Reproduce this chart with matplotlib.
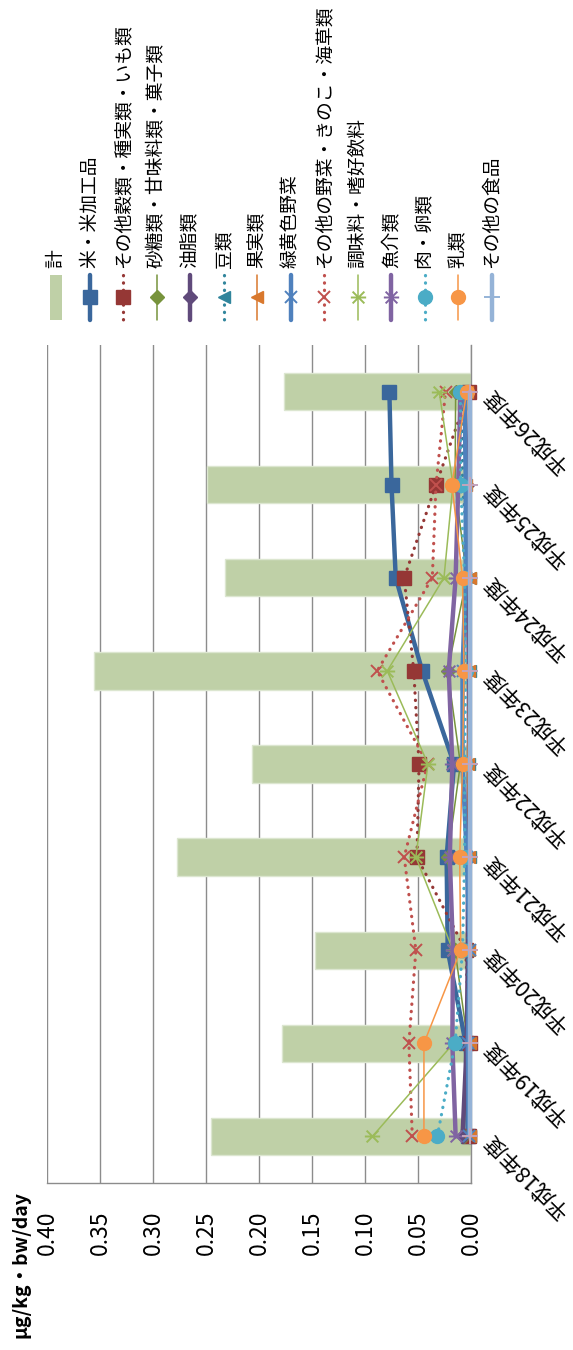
import numpy as np
import matplotlib
matplotlib.use("Agg")
import matplotlib.pyplot as plt
from matplotlib.lines import Line2D
from matplotlib.patches import Rectangle
from matplotlib.path import Path

plt.rcParams['font.family'] = ['Noto Sans CJK JP', 'DejaVu Sans']

# ---- data (平成18年度 -> 平成26年度) ----
years = ["平成18年度", "平成19年度", "平成20年度", "平成21年度", "平成22年度",
         "平成23年度", "平成24年度", "平成25年度", "平成26年度"]

total = [0.245, 0.178, 0.147, 0.277, 0.207, 0.356, 0.232, 0.249, 0.176]

rice = [0.003, 0.005, 0.022, 0.023, 0.016, 0.046, 0.071, 0.075, 0.077]
other_grain = [0.002, 0.001, 0.005, 0.051, 0.049, 0.054, 0.063, 0.033, 0.002]
sugar = [0.007, 0.003, 0.015, 0.022, 0.010, 0.022, 0.004, 0.015, 0.0145]
oil = [0.008, 0.004, 0.003, 0.003, 0.002, 0.002, 0.003, 0.004, 0.006]
beans = [0.001, 0.002, 0.003, 0.001, 0.002, 0.001, 0.001, 0.008, 0.008]
fruit = [0.001, 0.001, 0.002, 0.002, 0.003, 0.002, 0.001, 0.005, 0.004]
gy_veg = [0.002, 0.003, 0.001, 0.004, 0.008, 0.008, 0.005, 0.005, 0.006]
other_veg = [0.0554, 0.0586, 0.052, 0.063, 0.041, 0.0885, 0.0365, 0.033, 0.024]
seasoning = [0.093, 0.0165, 0.017, 0.052, 0.0406, 0.079, 0.0255, 0.017, 0.030]
fish = [0.0145, 0.0176, 0.017, 0.020, 0.0176, 0.021, 0.0145, 0.012, 0.010]
meat_egg = [0.0318, 0.015, 0.008, 0.006, 0.006, 0.005, 0.006, 0.0097, 0.010]
milk = [0.0444, 0.0444, 0.0097, 0.0107, 0.008, 0.0066, 0.008, 0.018, 0.004]
other_food = [0.001, 0.001, 0.001, 0.001, 0.001, 0.001, 0.001, 0.001, 0.001]

# asterisk marker: x plus a horizontal bar (chart is turned on its side)
ASTER = Path([(-1, -1), (1, 1), (-1, 1), (1, -1), (-1.3, 0), (1.3, 0)],
             [Path.MOVETO, Path.LINETO, Path.MOVETO, Path.LINETO, Path.MOVETO, Path.LINETO])

DOT = (0, (0.1, 2.2))
# label, values, color, lw, linestyle, marker, markersize, marker color
series = [
    ("米・米加工品", rice, "#3A679C", 3.2, "-", "s", 9.5, "#3A679C"),
    ("その他穀類・種実類・いも類", other_grain, "#953735", 2.3, DOT, "s", 9.5, "#953735"),
    ("砂糖類・甘味料類・菓子類", sugar, "#77933C", 1.1, "-", "D", 7.5, "#77933C"),
    ("油脂類", oil, "#604A7B", 3.2, "-", "D", 7.5, "#604A7B"),
    ("豆類", beans, "#31859C", 2.3, DOT, "<", 9, "#31859C"),
    ("果実類", fruit, "#D9782D", 1.1, "-", "<", 9, "#D9782D"),
    ("緑黄色野菜", gy_veg, "#4F81BD", 3.2, "-", "x", 9, "#4F81BD"),
    ("その他の野菜・きのこ・海草類", other_veg, "#C0504D", 2.3, DOT, "x", 9, "#C0504D"),
    ("調味料・嗜好飲料", seasoning, "#9BBB59", 1.1, "-", ASTER, 11, "#9BBB59"),
    ("魚介類", fish, "#8064A2", 3.2, "-", ASTER, 11, "#8064A2"),
    ("肉・卵類", meat_egg, "#4BACC6", 2.3, DOT, "o", 10, "#4BACC6"),
    ("乳類", milk, "#F79646", 1.1, "-", "o", 10, "#F79646"),
    ("その他の食品", other_food, "#95B3D7", 3.2, "-", "+", 11, "#C4A4BC"),
]

W, H = 573, 1350


def fx(x):
    return x / W


def fy(y):
    return 1 - y / H


fig = plt.figure(figsize=(W / 100, H / 100), dpi=100)
ax = fig.add_axes([fx(47), fy(1183), fx(471) - fx(47), fy(345) - fy(1183)])

ypos = np.arange(len(years))
ax.barh(ypos, total, height=0.4, color="#BFD0A7", edgecolor="#DCE6D0",
        linewidth=1, zorder=2)

for name, vals, col, lw, ls, mk, ms, mcol in series:
    thin = mk in ("x", "+") or isinstance(mk, Path)
    ax.plot(vals, ypos, color=col, lw=lw, linestyle=ls, marker=mk, markersize=ms,
            markerfacecolor=mcol, markeredgecolor=mcol,
            markeredgewidth=1.4 if thin else 1.0,
            dash_capstyle="round", solid_capstyle="round",
            zorder=3, clip_on=False)

ax.set_xlim(0.40, 0.0)
ax.set_ylim(-0.5, len(years) - 0.5)
ax.set_xticks(np.arange(0, 0.401, 0.05))
ax.set_xticklabels([f"{v:.2f}" for v in np.arange(0, 0.401, 0.05)],
                   rotation=90, fontsize=16.5)
ax.xaxis.grid(True, color="#8C8C8C", lw=1.0, zorder=0)
ax.set_axisbelow(True)
ax.tick_params(axis="x", length=0, pad=20)

ax.yaxis.tick_right()
ax.set_yticks(ypos)
ax.set_yticklabels(years, rotation=135, rotation_mode="anchor",
                   ha="right", va="center", fontsize=15.5)
ax.tick_params(axis="y", length=0, pad=12)

for s in ("top", "left"):
    ax.spines[s].set_visible(False)
for s in ("right", "bottom"):
    ax.spines[s].set_color("#8C8C8C")
    ax.spines[s].set_linewidth(1.0)

fig.text(fx(21), fy(1265), "μg/kg・bw/day", rotation=90, ha="center",
         va="center", fontsize=14, fontweight="bold")

# ---- legend, laid on its side like the rest of the chart ----
x0, dx = 56, 33.5
y_top, y_mid, y_bot, y_txt = 275, 297, 320, 268
fig.patches.append(Rectangle((fx(x0 - 6), fy(y_bot)), fx(12), fy(y_top) - fy(y_bot),
                             transform=fig.transFigure, facecolor="#BFD0A7",
                             edgecolor="none"))
fig.text(fx(x0), fy(y_txt), "計", rotation=90, ha="center", va="bottom", fontsize=13.5)

for i, (name, vals, col, lw, ls, mk, ms, mcol) in enumerate(series, start=1):
    x = x0 + dx * i
    thin = mk in ("x", "+") or isinstance(mk, Path)
    fig.lines.append(Line2D([fx(x)] * 3, [fy(y_top), fy(y_mid), fy(y_bot)],
                            transform=fig.transFigure, color=col, lw=lw, linestyle=ls,
                            marker=mk, markevery=[1], markersize=ms,
                            markerfacecolor=col, markeredgecolor=col,
                            markeredgewidth=1.4 if thin else 1.0,
                            dash_capstyle="round", solid_capstyle="round"))
    fig.text(fx(x), fy(y_txt), name, rotation=90, ha="center", va="bottom",
             fontsize=13.5)

fig.savefig("out.png", dpi=100)
